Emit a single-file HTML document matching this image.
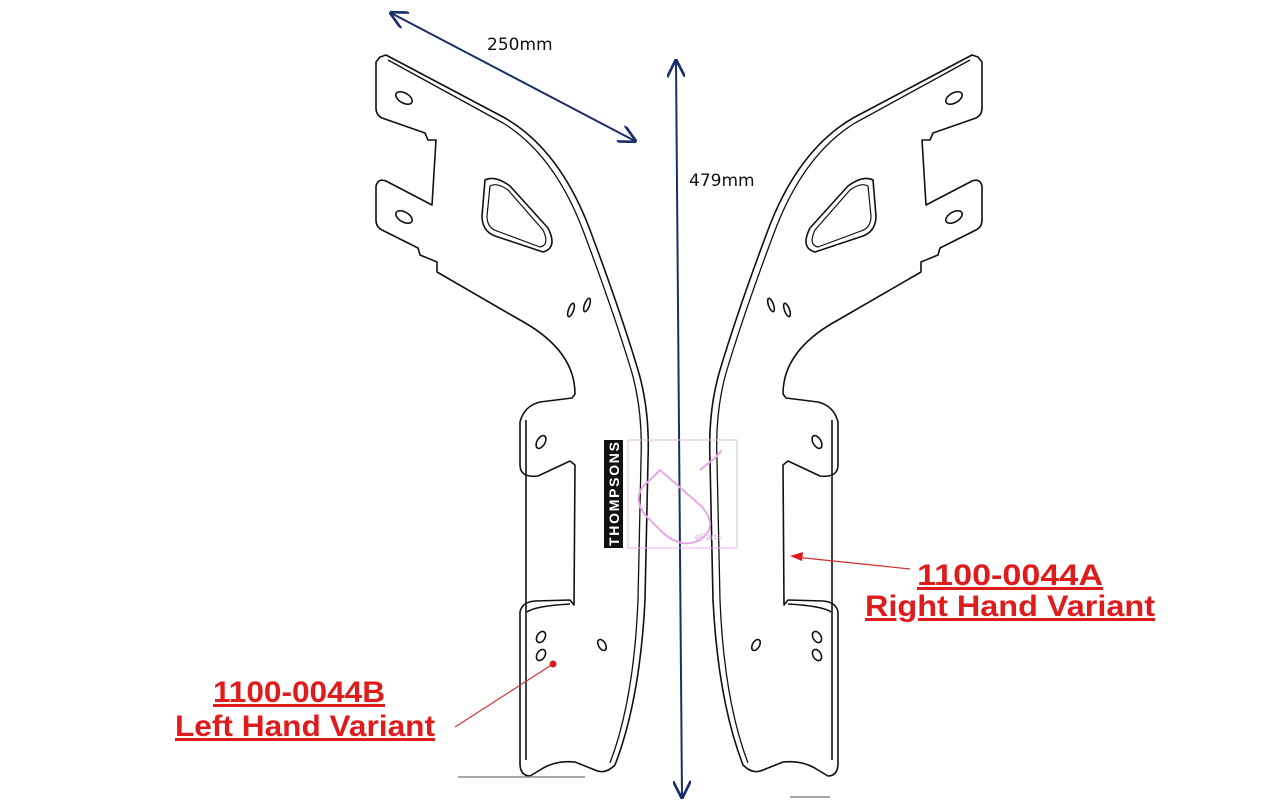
<!DOCTYPE html>
<html><head><meta charset="utf-8"><style>
html,body{margin:0;padding:0;background:#fff;}
svg{display:block;}
.lbl{font-family:"Liberation Sans",sans-serif;font-weight:bold;font-size:30px;fill:#e01b1b;text-decoration:underline;}
.dim{font-family:"DejaVu Sans","Liberation Sans",sans-serif;font-size:17px;fill:#111;}
</style></head><body>
<svg width="1275" height="812" viewBox="0 0 1275 812" xmlns="http://www.w3.org/2000/svg">
<defs>
<g id="br" fill="none" stroke="#111" stroke-width="1.6" stroke-linejoin="round">
<path d="M 380 57 L 386 55 L 505 118 Q 560 150 590 230 Q 620 310 638 370 Q 650 410 648 460 L 645 600 Q 640 700 615 765 Q 605 775 595 770 L 575 762 Q 555 760 540 770 L 530 776 Q 521 776 520 765 L 520 612 Q 522 602 535 601 L 570 600 L 574 605 L 575 465 L 570 461 L 538 476 Q 520 478 520 465 L 520 422 Q 524 406 540 402 L 572 398 L 575 394 Q 575 350 520 320 L 437 272 L 437 262 L 420 255 L 418 248 L 382 230 Q 376 227 376 220 L 376 186 Q 378 178 386 181 L 432 205 L 436 140 L 428 140 L 425 133 L 382 118 Q 376 115 376 108 L 376 62 Z"/>
<path d="M 388 60 L 503 123 Q 555 155 584 233 Q 614 313 632 373 Q 643 413 641 460 L 638 600 Q 634 700 610 763" stroke-width="1.3"/>
<path d="M 485 180 Q 495 175 510 186 L 548 228 Q 558 248 543 252 L 495 236 Q 482 231 482 216 Z"/>
<path d="M 490 186 Q 497 182 508 190 L 543 230 Q 550 245 540 247 L 497 231 Q 487 228 487 216 Z" stroke-width="1.2"/>
<ellipse cx="404" cy="98" rx="9" ry="5" transform="rotate(30 404 98)"/>
<ellipse cx="404" cy="217" rx="9" ry="5" transform="rotate(30 404 217)"/>
<ellipse cx="571" cy="310" rx="2.5" ry="7" transform="rotate(20 571 310)"/>
<ellipse cx="587" cy="305" rx="2.5" ry="7" transform="rotate(20 587 305)"/>
<ellipse cx="541" cy="442" rx="4" ry="7" transform="rotate(30 541 442)"/>
<ellipse cx="541" cy="637" rx="4" ry="6" transform="rotate(30 541 637)"/>
<ellipse cx="541" cy="655" rx="4" ry="6" transform="rotate(30 541 655)"/>
<ellipse cx="602" cy="645" rx="3.5" ry="6" transform="rotate(-30 602 645)"/>
<path d="M 526 420 L 526 760 M 527 612 Q 535 606 570 604"/>
</g>
<marker id="ah" viewBox="0 0 10 10" refX="9" refY="5" markerWidth="9" markerHeight="9" orient="auto-start-reverse"><path d="M0 0 L10 5 L0 10" fill="none" stroke="#1a2e6b" stroke-width="1.5"/></marker>
</defs>
<use href="#br"/>
<use href="#br" transform="translate(1358,0) scale(-1,1)"/>
<line x1="458" y1="777" x2="585" y2="777" stroke="#888" stroke-width="1.5"/>
<line x1="790" y1="797" x2="830" y2="797" stroke="#888" stroke-width="1.5"/>
<line x1="391" y1="13" x2="635" y2="141" stroke="#1a2e6b" stroke-width="2" marker-start="url(#ah)" marker-end="url(#ah)"/>
<line x1="676" y1="61" x2="682" y2="797" stroke="#1a2e6b" stroke-width="2" marker-start="url(#ah)" marker-end="url(#ah)"/>
<text class="dim" x="487" y="50">250mm</text>
<text class="dim" x="689" y="186">479mm</text>
<rect x="604" y="440" width="19" height="108" fill="#111"/>
<text x="619" y="546" transform="rotate(-90 619 546)" font-family="Liberation Sans,sans-serif" font-weight="bold" font-size="14" fill="#fff" textLength="104">THOMPSONS</text>
<rect x="628" y="440" width="109" height="108" fill="none" stroke="#e6b8e6" stroke-width="1"/>
<path d="M 660 470 L 700 505 Q 720 525 700 540 Q 680 550 660 530 L 645 515 Q 630 495 650 480 Z M 700 470 L 715 458 L 722 450" fill="none" stroke="#e6a8e6" stroke-width="2"/>
<text x="695" y="540" font-family="Liberation Sans,sans-serif" font-size="9" fill="#e6a8e6">eParts</text>
<line x1="455" y1="727" x2="553" y2="664" stroke="#d03030" stroke-width="1.2"/>
<circle cx="553" cy="664" r="3.5" fill="#e01b1b"/>
<line x1="910" y1="569" x2="795" y2="557" stroke="#d03030" stroke-width="1.2"/>
<path d="M 790 556 L 803 552 L 802 561 Z" fill="#e01b1b"/>
<text class="lbl" x="213" y="702" textLength="172" lengthAdjust="spacingAndGlyphs">1100-0044B</text>
<text class="lbl" x="175" y="736" textLength="260" lengthAdjust="spacingAndGlyphs">Left Hand Variant</text>
<text class="lbl" x="917" y="585" textLength="186" lengthAdjust="spacingAndGlyphs">1100-0044A</text>
<text class="lbl" x="865" y="616" textLength="290" lengthAdjust="spacingAndGlyphs">Right Hand Variant</text>
</svg>
</body></html>
